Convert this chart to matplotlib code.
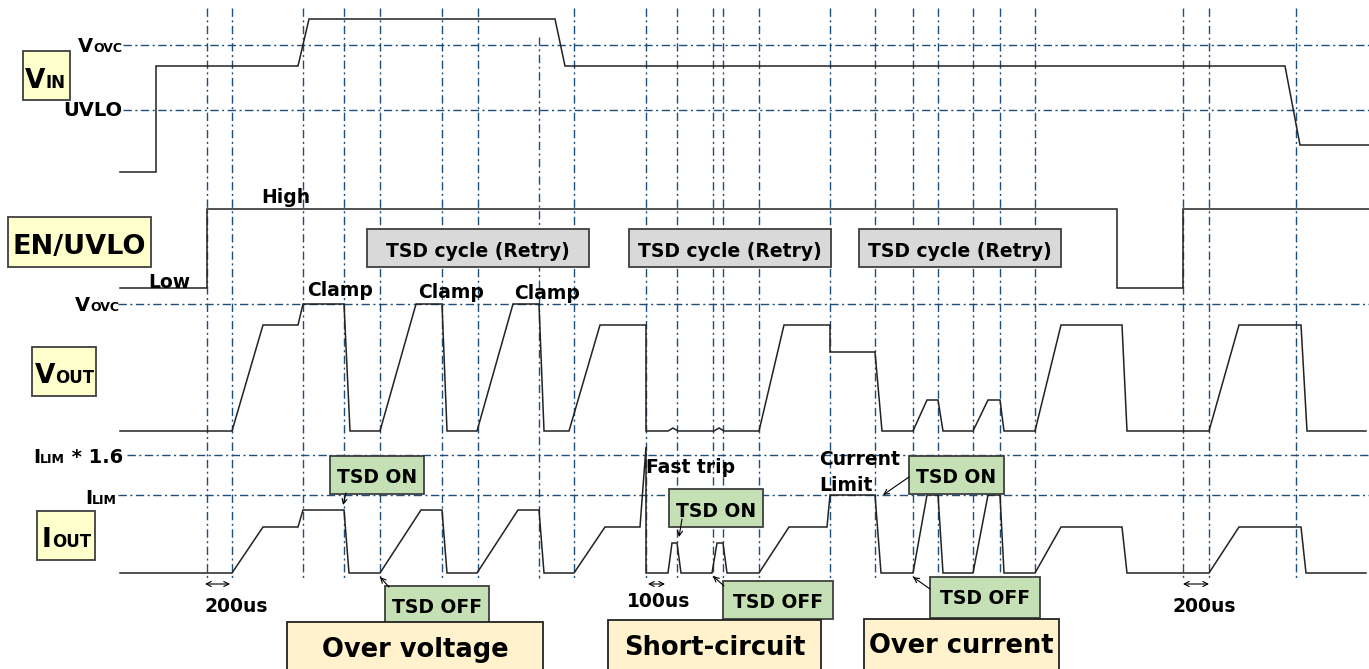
import matplotlib
matplotlib.use("Agg")
import matplotlib.pyplot as plt
from matplotlib.patches import Rectangle

plt.rcParams['font.family'] = ['DejaVu Sans']

# canvas works in picture units: x = time axis (left->right), y = downwards
W, H = 1369, 669

# --- waveforms (breakpoints) ---
vin_x = [120, 156, 156, 298, 309, 555, 565, 1285, 1300, 1369]
vin_y = [172, 172, 66, 66, 19, 19, 66, 66, 145, 145]

en_x = [120, 207, 207, 1117, 1117, 1183, 1183, 1369]
en_y = [288, 288, 209, 209, 288, 288, 209, 209]

vout_x = [120, 232, 263, 298, 303, 344, 350, 380, 416, 442, 447, 477, 513, 539,
          544, 569, 600, 646, 646, 668, 673, 678, 714, 719, 724, 759, 784, 830,
          830, 875, 882, 913, 927, 938, 943, 973, 988, 1000, 1004, 1035, 1061,
          1122, 1127, 1209, 1239, 1301, 1307, 1366]
vout_y = [431, 431, 325, 325, 304, 304, 431, 431, 304, 304, 431, 431, 304, 304,
          431, 431, 325, 325, 431, 431, 428, 431, 431, 428, 431, 431, 325, 325,
          352, 352, 431, 431, 400, 400, 431, 431, 400, 400, 431, 431, 325,
          325, 431, 431, 325, 325, 431, 431]

iout_x = [120, 232, 263, 298, 303, 344, 349, 380, 421, 442, 447, 477, 518, 539,
          544, 574, 605, 640, 646, 646, 668, 672, 677, 681, 712, 717, 723, 727,
          759, 789, 827, 830, 875, 881, 913, 927, 938, 943, 973, 988, 1000,
          1004, 1035, 1061, 1122, 1127, 1209, 1239, 1301, 1306, 1366]
iout_y = [573, 573, 527, 527, 510, 510, 573, 573, 510, 510, 573, 573, 510, 510,
          573, 573, 527, 527, 447, 573, 573, 543, 543, 573, 573, 543, 543, 573,
          573, 527, 527, 495, 495, 573, 573, 495, 495, 573, 573, 495, 495,
          573, 573, 527, 527, 573, 573, 527, 527, 573, 573]

# --- reference grid ---
grid_x = [207, 232, 303, 344, 380, 442, 478, 539, 574, 646, 677, 713, 723, 759,
          830, 875, 913, 938, 973, 1000, 1035, 1183, 1209, 1296]
grid_top = [8] * 7 + [37] + [8] * 16
thresh_y = [45, 110, 304, 455, 495]
thresh_x0 = [123, 123, 118, 127, 118]

GRID = '#1F4E79'
WAVE = '#222222'
DASHDOT = (0, (6, 2.5, 1.5, 2.5))
BOLD = dict(fontweight='bold', color='black')

fig = plt.figure(figsize=(W / 100, H / 100), dpi=100)
ax = fig.add_axes([0, 0, 1, 1])
ax.set_xlim(0, W)
ax.set_ylim(H, 0)
ax.axis('off')
renderer = fig.canvas.get_renderer()
inv = ax.transData.inverted()

for x, top in zip(grid_x, grid_top):
    ax.plot([x, x], [top, 578], color=GRID, lw=1, ls=DASHDOT, zorder=1)
for y, x0 in zip(thresh_y, thresh_x0):
    ax.plot([x0, W], [y, y], color=GRID, lw=1, ls=DASHDOT, zorder=1)

for xs, ys in [(vin_x, vin_y), (en_x, en_y), (vout_x, vout_y), (iout_x, iout_y)]:
    ax.plot(xs, ys, color=WAVE, lw=1.1, zorder=2, solid_joinstyle='miter')


def box(x0, y0, x1, y1, fc, ec='#3F3F3F', lw=1.3):
    ax.add_patch(Rectangle((x0, y0), x1 - x0, y1 - y0, fc=fc, ec=ec, lw=lw, zorder=3))


def sub_label(x, y, parts):
    # parts: list of (text, fontsize); drawn one after another on a shared baseline
    for s, fs in parts:
        t = ax.text(x, y, s, fontsize=fs, va='baseline', ha='left', zorder=5, **BOLD)
        bb = t.get_window_extent(renderer)
        x = inv.transform((bb.x1, bb.y0))[0]


def boxed(x0, y0, x1, y1, text, fc, fs, base, ec='#3F3F3F'):
    box(x0, y0, x1, y1, fc, ec=ec)
    ax.text((x0 + x1) / 2, base, text, fontsize=fs, ha='center', va='baseline',
            zorder=5, **BOLD)


def arrow(tail, tip, style='->'):
    ax.annotate('', xy=tip, xytext=tail, zorder=6,
                arrowprops=dict(arrowstyle=style, lw=0.8, color='black',
                                mutation_scale=9, shrinkA=0, shrinkB=0))


# signal names
box(23, 51, 70, 100, '#FFFFCC')
sub_label(25, 88, [('V', 19), ('IN', 12)])
box(8, 217, 151, 267, '#FFFFCC')
ax.text(79.5, 254, 'EN/UVLO', fontsize=19.5, ha='center', va='baseline', zorder=5, **BOLD)
box(32, 347, 96, 396, '#FFFFCC')
sub_label(35, 383, [('V', 19), ('OUT', 12)])
box(37, 511, 95, 560, '#FFFFCC')
sub_label(42, 547, [('I', 19), ('OUT', 12)])

# threshold labels
sub_label(78, 52, [('V', 14), ('OVC', 9)])
ax.text(122, 116, 'UVLO', fontsize=14, ha='right', va='baseline', zorder=5, **BOLD)
sub_label(75, 311, [('V', 14), ('OVC', 9)])
sub_label(33, 463, [('I', 14), ('LIM', 9), (' * 1.6', 14)])
sub_label(85, 504, [('I', 14), ('LIM', 9)])

# small annotations
for s, x, y in [('High', 261, 203), ('Low', 148, 288), ('Clamp', 307, 296),
                ('Clamp', 418, 298), ('Clamp', 514, 299), ('Fast trip', 646, 473),
                ('Current', 819, 465), ('Limit', 819, 491), ('200us', 204, 612),
                ('100us', 627, 607), ('200us', 1173, 612)]:
    ax.text(x, y, s, fontsize=13.5, ha='left', va='baseline', zorder=5, **BOLD)

# TSD retry cycles
for x0, x1 in [(367, 589), (629, 831), (859, 1061)]:
    boxed(x0, 229, x1, 267, 'TSD cycle (Retry)', '#D9D9D9', 13.5, 257)

GREEN = '#C5E0B4'
boxed(330, 456, 424, 494, 'TSD ON', GREEN, 13.5, 483)
boxed(385, 586, 489, 624, 'TSD OFF', GREEN, 13.5, 613)
boxed(669, 489, 763, 527, 'TSD ON', GREEN, 13.5, 517)
boxed(723, 581, 833, 619, 'TSD OFF', GREEN, 13.5, 608)
boxed(909, 456, 1004, 494, 'TSD ON', GREEN, 13.5, 483)
boxed(930, 577, 1040, 618, 'TSD OFF', GREEN, 13.5, 604)

CREAM = '#FFF2CC'
boxed(287, 622, 543, 670, 'Over voltage', CREAM, 18.5, 657, ec='#222222')
boxed(608, 620, 821, 670, 'Short-circuit', CREAM, 18.5, 655, ec='#222222')
boxed(864, 619, 1059, 670, 'Over current', CREAM, 18.5, 653, ec='#222222')

arrow((346, 493), (343, 505))
arrow((389, 587), (380, 577))
arrow((682, 519), (679, 537))
arrow((724, 586), (713, 576))
arrow((909, 477), (883, 495))
arrow((930, 589), (913, 577))

for x0, x1 in [(205, 230), (648, 665), (1183, 1209)]:
    arrow((x0, 584), (x1, 584), style='<->')

fig.savefig('out.png', dpi=100)
